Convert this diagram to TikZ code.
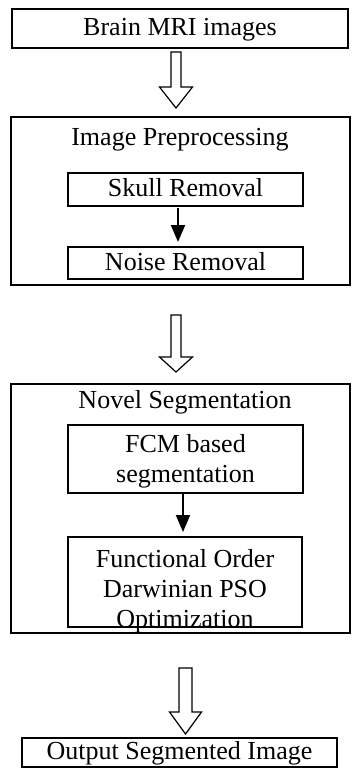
\documentclass[tikz,border=0pt]{standalone}
\usepackage{fontspec}
\setmainfont{Liberation Serif}
\usetikzlibrary{arrows.meta,calc}
\newcommand\hollowarrow[6]{% cx, top, base, tip, half shaft, half head
  \draw[hollow] ({#1-#5},{#2}) -- ({#1+#5},{#2}) -- ({#1+#5},{#3}) -- ({#1+#6},{#3})
    -- ({#1},{#4}) -- ({#1-#6},{#3}) -- ({#1-#5},{#3}) -- cycle;}
\tikzset{
  txt/.style={font=\fontsize{26}{30}\selectfont},
  box/.style={txt, draw, line width=1.5pt, inner sep=0pt, outer sep=0pt,
    text height=18pt, text depth=4pt, align=center},
  container/.style={draw, line width=2pt, inner sep=0pt, outer sep=0pt},
  title/.style={txt, inner sep=0pt, anchor=base},
  flow/.style={line width=2pt, -{Triangle[length=17pt,width=14pt]}},
  hollow/.style={draw, line width=1.2pt, fill=white, line join=miter},
}
\begin{document}
\begin{tikzpicture}[x=1pt,y=-1pt]
\useasboundingbox (0,0) rectangle (351,768);
% top
\node[box, minimum width=336pt, minimum height=39pt] (mri) at (180,28.5) {Brain MRI images};
% preprocessing
\node[container, minimum width=339pt, minimum height=168pt] (pre) at (180.5,201) {};
\node[title] (pretitle) at (180,145) {Image Preprocessing};
\node[box, minimum width=235pt, minimum height=33pt] (skull) at (185.5,189.5) {Skull Removal};
\node[box, minimum width=235pt, minimum height=32pt] (noise) at (185.5,263) {Noise Removal};
\draw[flow] ($(skull.south)+(-7.5,2)$) -- ($(noise.north)+(-7.5,-5)$);
% segmentation
\node[container, minimum width=339pt, minimum height=249pt] (seg) at (180.5,508.5) {};
\node[title] (segtitle) at (185,408) {Novel Segmentation};
\node[box, minimum width=235pt, minimum height=68pt, text height=48pt, text depth=2pt] (fcm) at (185.5,459) {FCM based\\segmentation};
\node[box, minimum width=234pt, minimum height=90pt, text height=90pt, text depth=-2pt] (pso) at (185,582) {Functional Order\\Darwinian PSO\\Optimization};
\draw[flow] ($(fcm.south)+(-2.5,1)$) -- ($(pso.north)+(-2,-5)$);
% output
\node[box, minimum width=315pt, minimum height=29pt] (out) at (179.5,752.5) {Output Segmented Image};
% hollow block arrows
\hollowarrow{176}{52}{87}{108}{5}{16.5}
\hollowarrow{176}{315}{357}{372}{5}{16.5}
\hollowarrow{185.5}{668}{712}{734}{6.5}{16}
\end{tikzpicture}
\end{document}
